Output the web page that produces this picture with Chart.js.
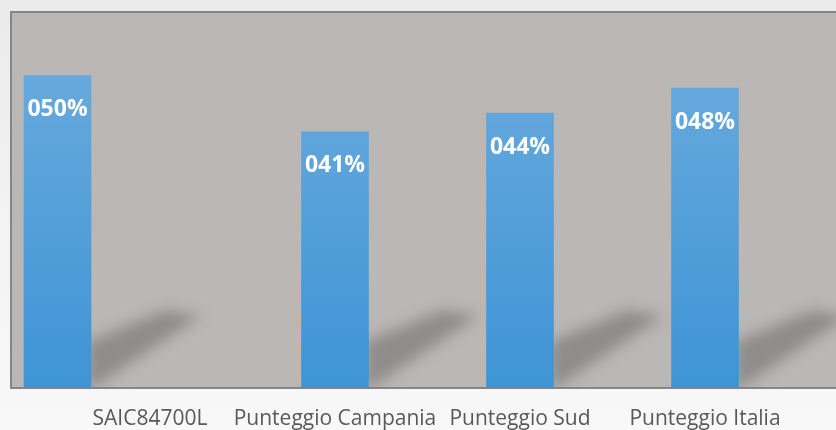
<!DOCTYPE html>
<html>
<head>
<meta charset="utf-8">
<script src="https://cdn.jsdelivr.net/npm/chart.js@4"></script>
<style>
  html, body { margin: 0; padding: 0; overflow: hidden; }
  body { width: 836px; height: 430px; background: linear-gradient(#eaeaea, #f4f4f4 60%, #f8f8f8); }
  #wrap { width: 850px; height: 430px; }
</style>
</head>
<body>
<div id="wrap"><canvas id="chart"></canvas></div>
<script>
const categories = ['SAIC84700L', 'Punteggio Campania', 'Punteggio Sud', 'Punteggio Italia'];
const values = [50, 41, 44, 48];
// where each bar sits along the x axis (category units)
const slots = [-0.5, 1, 2, 3];

// plot background and frame
const plotFrame = {
  id: 'plotFrame',
  beforeDraw(chart) {
    const { ctx, chartArea: a } = chart;
    ctx.save();
    ctx.fillStyle = '#bbb7b5';
    ctx.fillRect(a.left, a.top, a.right - a.left, a.bottom - a.top);
    ctx.strokeStyle = '#878685';
    ctx.lineWidth = 2;
    ctx.strokeRect(a.left - 1, a.top - 1, a.right - a.left + 2, a.bottom - a.top + 1);
    ctx.restore();
  }
};

// soft slanted shadow behind each bar
const barShadow = {
  id: 'barShadow',
  beforeDatasetsDraw(chart) {
    const { ctx, chartArea: a } = chart;
    ctx.save();
    ctx.beginPath();
    ctx.rect(a.left, a.top, a.right - a.left, a.bottom - a.top);
    ctx.clip();
    ctx.filter = 'blur(7px)';
    ctx.fillStyle = 'rgba(128,127,125,0.75)';
    chart.getDatasetMeta(0).data.forEach(bar => {
      const x = bar.x + bar.width / 2;
      const y = bar.base;
      ctx.beginPath();
      ctx.moveTo(x - 4, y + 4);
      ctx.lineTo(x - 4, y - 46);
      ctx.lineTo(x + 74, y - 78);
      ctx.lineTo(x + 110, y - 72);
      ctx.closePath();
      ctx.fill();
    });
    ctx.restore();
  }
};

// value labels inside the top of each bar
const barLabels = {
  id: 'barLabels',
  afterDatasetsDraw(chart) {
    const { ctx } = chart;
    ctx.save();
    ctx.fillStyle = '#ffffff';
    ctx.font = 'bold 23px "Open Sans"';
    ctx.textAlign = 'center';
    ctx.textBaseline = 'middle';
    chart.getDatasetMeta(0).data.forEach((bar, i) => {
      const txt = String(values[i]).padStart(3, '0') + '%';
      ctx.fillText(txt, bar.x, bar.y + 34);
    });
    ctx.restore();
  }
};

const canvas = document.getElementById('chart');

new Chart(canvas, {
  type: 'bar',
  data: {
    datasets: [{
      data: values.map((v, i) => ({ x: slots[i], y: v })),
      backgroundColor(c) {
        const a = c.chart.chartArea;
        if (!a) return '#5aa2dc';
        const grad = c.chart.ctx.createLinearGradient(0, a.top, 0, a.bottom);
        grad.addColorStop(0, '#6eaddf');
        grad.addColorStop(1, '#3e94d5');
        return grad;
      },
      borderWidth: 0,
      barThickness: 67
    }]
  },
  options: {
    responsive: true,
    maintainAspectRatio: false,
    animation: false,
    layout: { padding: { left: 12, right: 2, top: 13, bottom: 0 } },
    plugins: { legend: { display: false }, tooltip: { enabled: false } },
    scales: {
      x: {
        type: 'linear',
        offset: false,
        min: -0.746,
        max: 3.773,
        grid: { display: false },
        border: { display: false },
        afterBuildTicks(scale) {
          scale.ticks = categories.map((_, i) => ({ value: i }));
        },
        afterFit(scale) {
          scale.height = 42;
        },
        ticks: {
          padding: 10,
          maxRotation: 0,
          autoSkip: false,
          color: '#595959',
          font: { family: 'Open Sans', size: 21 },
          callback: v => categories[v]
        }
      },
      y: {
        display: false,
        min: 0,
        max: 60
      }
    }
  },
  plugins: [plotFrame, barShadow, barLabels]
});
</script>
</body>
</html>
